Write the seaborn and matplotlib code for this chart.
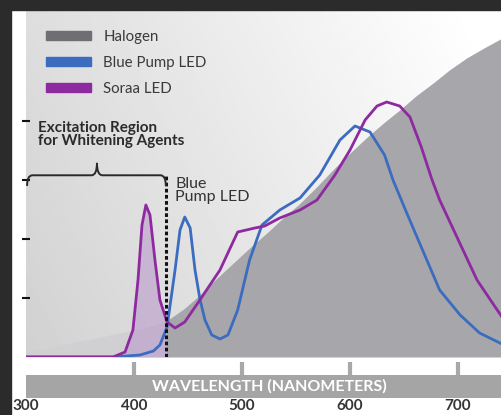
import numpy as np
import pandas as pd
import matplotlib.pyplot as plt
import seaborn as sns
from matplotlib.patches import Patch, Rectangle, PathPatch
from matplotlib.path import Path

# -----------------------------
# data
# -----------------------------
halogen_nm = [300, 320, 341, 365, 387, 410, 430, 446, 461, 476, 492, 507, 523, 538, 554,
              569, 584, 600, 616, 631, 646, 661, 677, 692, 708, 724, 741]
halogen_h = [5, 9, 14, 19, 24, 29, 36, 48, 62, 78, 94, 109, 124, 139, 154,
             170, 187, 204, 220, 234, 247, 261, 274, 287, 299, 309, 319]

blue_nm = [300, 380.6, 405.6, 418, 424, 430.6, 438, 442.6, 447, 452, 456.5, 461, 465.7, 472, 479.6,
           487, 496, 507, 518.5, 535, 553.7, 572, 590.7, 604.6, 618.5, 632, 639.8, 651, 662, 683,
           702, 720, 740.7]
blue_h = [0, 0, 2, 6, 12, 30, 87, 127, 140, 129, 87, 58, 37, 22, 18,
          22, 47, 97, 132, 147, 159, 182, 217, 231, 225, 202, 177, 148, 120, 67,
          42, 24, 13]

soraa_nm = [300, 380.6, 391.7, 399, 403.7, 407.4, 411, 414.8, 419.4, 424, 430.6, 438, 447, 461,
            479.6, 496, 512, 521, 535, 553.7, 569.4, 586, 600, 614, 625, 634, 646, 655.5, 666,
            676, 683, 699, 717.6, 740.7]
soraa_h = [0, 0, 5, 27, 77, 132, 152, 142, 97, 57, 35, 29, 35, 57,
           87, 125, 129, 131, 139, 147, 157, 182, 207, 237, 251, 255, 251, 240, 210,
           177, 157, 120, 77, 40]

major_ticks = [300, 400, 500, 600, 700]
minor_ticks = [350, 400, 450, 500, 550, 600, 650, 700]
y_ticks = [1, 2, 3, 4]
excitation_edge = 430

labels = ["Halogen", "Blue Pump LED", "Soraa LED"]
colors = ["#6f6e72", "#3b6cbf", "#8e2aa0"]

PX = 59.0  # pixel height of one y unit in the reference

df = pd.concat([
    pd.DataFrame({"nm": blue_nm, "h": np.array(blue_h) / PX, "src": "Blue Pump LED"}),
    pd.DataFrame({"nm": soraa_nm, "h": np.array(soraa_h) / PX, "src": "Soraa LED"}),
])

# -----------------------------
# figure
# -----------------------------
sns.set_theme(style="white")
plt.rcParams["font.family"] = ["Lato", "DejaVu Sans"]

fig = plt.figure(figsize=(5.02, 4.15), dpi=100)
W, H = 502, 415
ax = fig.add_axes([26 / W, (H - 357) / H, (W - 26) / W, 347 / H])
ax.set_xlim(300, 300 + 476 / 1.08)
ax.set_ylim(0, 347 / PX)

# background gradient
gx, gy = np.meshgrid(np.linspace(0, 1, 200), np.linspace(0, 1, 200))
grad = 0.82 + 0.14 * gx + 0.05 * gy
ax.imshow(np.clip(grad, 0, 1), cmap="gray", vmin=0, vmax=1, origin="lower",
          extent=[0, 1, 0, 1], transform=ax.transAxes, aspect="auto", zorder=0)

# halogen area (lighter inside the excitation region)
h_nm = np.array(halogen_nm)
h_h = np.array(halogen_h) / PX
ax.fill_between(h_nm, h_h, where=h_nm <= excitation_edge, color="#d0d0d2", lw=0, zorder=1)
ax.fill_between(h_nm, h_h, where=h_nm >= excitation_edge, color="#a7a6ab", lw=0, zorder=1)

# soraa fill inside the excitation region
s_nm = np.array(soraa_nm)
s_h = np.array(soraa_h) / PX
m = s_nm <= excitation_edge + 1
ax.fill_between(s_nm[m], s_h[m], color="#b99bcc", alpha=0.6, lw=0, zorder=2)

sns.lineplot(data=df, x="nm", y="h", hue="src", palette=colors[1:], lw=2,
             legend=False, ax=ax, zorder=3)

# dotted excitation edge
ax.plot([excitation_edge, excitation_edge], [0, 182 / PX], color="#111111",
        lw=2.2, ls=(0, (1.2, 0.8)), zorder=4)

# curly bracket
yb, yt, ye = 3.08, 3.29, 2.90
xl, xm, xr = 301, 365.7, 429.5
verts = [(xl, ye), (xl, yb), (xl + 5, yb), (xm - 5, yb), (xm, yb), (xm, yt),
         (xm, yb), (xm + 5, yb), (xr - 5, yb), (xr, yb), (xr, ye)]
codes = [Path.MOVETO, Path.CURVE3, Path.CURVE3, Path.LINETO, Path.CURVE3, Path.CURVE3,
         Path.CURVE3, Path.CURVE3, Path.LINETO, Path.CURVE3, Path.CURVE3]
ax.add_patch(PathPatch(Path(verts, codes), fill=False, ec="#2a2a2a", lw=1.4, zorder=4))

ax.text(311, 4.0, "Excitation Region\nfor Whitening Agents", fontsize=11,
        fontweight="bold", color="#2b2b2b", va="top", ha="left", linespacing=0.95)
ax.text(438, 3.05, "Blue\nPump LED", fontsize=11.5, color="#333333",
        va="top", ha="left", linespacing=0.92)

# legend
handles = [Patch(color=c, label=l) for c, l in zip(colors, labels)]
ax.legend(handles=handles, loc="upper left", bbox_to_anchor=(0.03, 0.96),
          frameon=False, fontsize=10.8, handlelength=3.0, handleheight=0.6,
          labelspacing=0.8, handletextpad=0.8, borderaxespad=0, labelcolor="#3a3a3a")

# ticks
ax.set_xticks(minor_ticks)
ax.set_xticklabels([])
ax.set_yticks(y_ticks)
ax.set_yticklabels([])
ax.tick_params(axis="x", direction="in", length=4, width=1.3, color="#111111", bottom=True)
ax.tick_params(axis="y", direction="inout", length=6, width=1.5, color="#111111", left=True)
ax.set_xlabel("")
ax.set_ylabel("")
for s in ax.spines.values():
    s.set_visible(False)

# wavelength band
ax2 = fig.add_axes([26 / W, (H - 398) / H, (W - 26) / W, 23 / H])
ax2.set_xlim(ax.get_xlim())
ax2.set_ylim(0, 1)
ax2.set_facecolor("#a5a5a5")
for s in ax2.spines.values():
    s.set_visible(False)
ax2.set_yticks([])
ax2.set_xticks(major_ticks)
ax2.set_xticklabels([str(t) for t in major_ticks], fontsize=11, fontweight="bold",
                    color="#353535")
ax2.tick_params(axis="x", top=True, bottom=False, labeltop=False, labelbottom=True,
                direction="out", length=9.5, width=3, color="#a8a8a8", pad=-8.5)
ax2.xaxis.get_major_ticks()[0].tick2line.set_visible(False)
ax2.text(525, 0.5, "WAVELENGTH (NANOMETERS)", color="white", fontsize=11.5,
         fontweight="bold", ha="center", va="center")

# dark frame on top and left
fig.patches.append(Rectangle((0, (H - 10) / H), 1, 10 / H, transform=fig.transFigure,
                             color="#2b2b2b", zorder=10))
fig.patches.append(Rectangle((0, 0), 11 / W, 1, transform=fig.transFigure,
                             color="#2b2b2b", zorder=10))

fig.savefig("out.png", dpi=100)
